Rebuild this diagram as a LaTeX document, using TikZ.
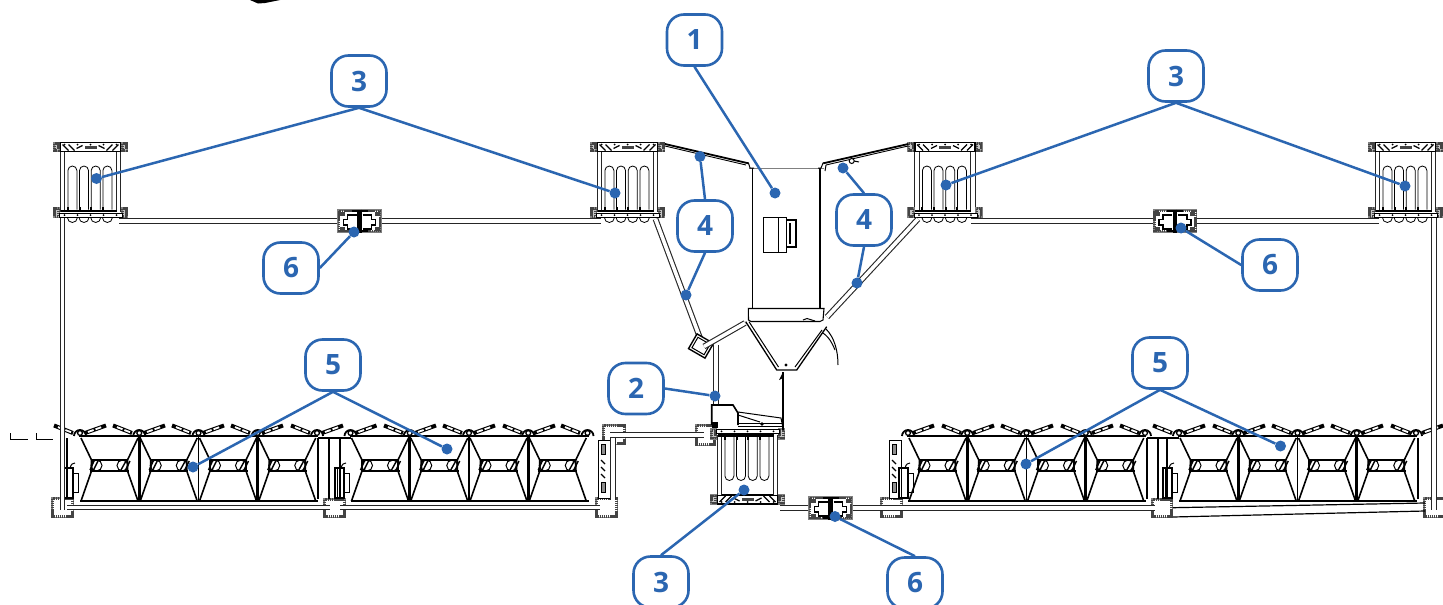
\documentclass[tikz,border=0pt]{standalone}
\usepackage{fontspec}
\setmainfont{Open Sans}
\definecolor{tagblue}{HTML}{2B66B1}
\definecolor{steel}{HTML}{444444}
\tikzset{
  tag/.style={draw=tagblue, fill=white, line width=2.6pt, rounded corners=17pt, minimum width=55pt, minimum height=51pt, inner sep=0pt, text=tagblue, font=\fontsize{28}{28}\selectfont\bfseries},
  tagdot/.style={circle, fill=tagblue, inner sep=0pt, minimum size=11pt},
  tagline/.style={draw=tagblue, line width=2.5pt},
  part/.style={black, line width=1pt},
  rail/.style={draw=black!85, line width=1.1pt, double=white, double distance=3.6pt},
  boxedge/.style={draw=steel, line width=2.6pt, dash pattern=on 1.5pt off 0.6pt, fill=white, preaction={draw=gray, line width=3.2pt, solid}},
  blockedge/.style={boxedge, fill=gray!45},
  rack/.pic={
    \draw[blockedge] (-36,2) rectangle (-32,9);
    \draw[blockedge] (32,2) rectangle (36,9);
    \draw[part, line width=1.2pt] (-30,1) rectangle (30,10);
    \fill[steel] (-6,4.5) rectangle (6,7);
    \foreach \s in {-1,1} {
      \draw[part, line width=1.3pt] (\s*28,3) -- (\s*22,9) (\s*22,3) -- (\s*16,9) (\s*14,7) -- (\s*8,4);
      \draw[rail] (\s*28,10) -- (\s*28,70);
      \draw[blockedge] (\s*32,67) rectangle (\s*36,75);
    }
    \foreach \t in {-18.1,-6.5,5.2,16.9} {
      \draw[part, line width=0.8pt] (\t-4.5,68) -- (\t-4.5,29) arc (180:360:4.5) -- (\t+4.5,68);
      \fill (\t-5.5,65.5) rectangle (\t-3.5,70);
    }
    \draw[black, line width=2.4pt] (-30,69.5) -- (26,69.5);
    \draw[part, fill=white] (-31,71.5) rectangle (32,76);
    \foreach \t in {-26,-13,0,13,26} {
      \fill (\t,3) circle (1) (\t,73.7) circle (1);
    }
  },
  rackcurls/.pic={
    \foreach \t in {-18.1,-6.5,5.2,16.9} {
      \draw[part, line width=0.8pt] (\t-5,76) arc (180:0:5);
    }
  },
  pumpunit/.pic={
    \draw[boxedge] (-20.5,-10) rectangle (20.5,10);
    \foreach \s in {-1,1} {
      \fill[steel] (\s*20,-9.5) rectangle (\s*15,-5.5);
      \fill[steel] (\s*20,9.5) rectangle (\s*15,5.5);
      \draw[part, line width=1.3pt, fill=white] (\s*3,-6) -- (\s*12,-6) -- (\s*12,-1.5) -- (\s*16,-1.5) -- (\s*16,4) -- (\s*12,4) -- (\s*12,8) -- (\s*3,8);
    }
    \draw[black, line width=4.4pt] (0,-11.5) -- (0,11.5);
    \draw[black, line width=2.6pt] (-8,-10) -- (8,-10);
    \draw[black, line width=2.6pt] (-8,10) -- (8,10);
  },
  bank/.pic={
    \draw[black, line width=1.5pt] (-1,3) -- (238,3);
    \draw[black, line width=2.6pt] (0,68) -- (238,68);
    \foreach \i in {0,1,2,3} {
      \begin{scope}[shift={(59.25*\i,0)}]
        \draw[black, line width=1.6pt] (1,5) -- (11.5,27) -- (11.5,38) -- (1,68);
        \draw[black, line width=1.6pt] (58,5) -- (47.5,27) -- (47.5,38) -- (58,68);
        \draw[black, line width=1.6pt] (11,27) -- (48,27) (10,38) -- (49,38);
        \draw[part] (16.5,32.5) circle (5.5) (42.5,32.5) circle (5.5);
        \draw[part, line width=1.4pt] (10,37) -- (14,28) (13,38) -- (18,28) (41,37) -- (46,28) (45,38) -- (50,28);
      \end{scope}
    }
    \draw[black, line width=3.2pt] (59.25,4) -- (59.25,68);
    \draw[black, line width=1.6pt] (118.5,4) -- (118.5,68);
    \draw[black, line width=3.2pt] (177.75,4) -- (177.75,68);
    \foreach \i in {0,1,2,3,4} {
      \draw[black, line width=1.8pt] (59.25*\i-6,3) arc (180:360:6);
      \draw[part, line width=1.3pt, fill=white] (59.25*\i,0) circle (2.4);
    }
  },
  panelunit/.pic={
    \draw[part, fill=white] (0,0) rectangle (12,58);
    \draw[part, fill=steel!60] (3,4) rectangle (7,14);
    \draw[part, fill=steel!60] (3,42) rectangle (7,52);
    \draw[part, line width=1.3pt] (3,20) -- (7,24) (3,27) -- (7,31) (3,34) -- (7,38);
  },
  motorunit/.pic={
    \draw[black, line width=1.6pt] (0,2) -- (0,32) -- (9,32) -- (9,2) -- cycle;
    \draw[part] (2.5,2) -- (2.5,32);
    \draw[part] (9,7) rectangle (14,26);
    \draw[part] (6,2) .. controls (7,-2) and (9,-3) .. (11,-3);
  }
}
\begin{document}
\begin{tikzpicture}[x=1pt, y=-1pt]
        \useasboundingbox (0,0) rectangle (1443,605);
        \clip (0,0) rectangle (1443,605);
        \fill[white] (0,0) rectangle (1443,605);

        \fill (250,0) -- (258,3.5) -- (265,3) -- (280,0) -- cycle;
        \draw[part] (10,433) -- (10,439.5) -- (28,439.5);
        \draw[part] (36,433) -- (36,439.5) -- (53,439.5);

        \foreach \x/\y/\w/\h in {51/497/23/21, 323/498/23/20, 595/497/23/21, 602/424/24/21, 695/424/21/22, 880/497/23/21, 1151/498/22/20, 1423/497/23/21} {
          \draw[boxedge] (\x+1.5,\y+1.5) rectangle (\x+\w-1.5,\y+\h-1.5);
        }

        \foreach \x in {80,350.5,908,1179} {
          \pic at (\x,433) {bank};
        }
        \pic at (598,440) {panelunit};
        \pic at (889,440) {panelunit};
        \foreach \x in {64,335,1163} {
          \pic at (\x,466) {motorunit};
        }
        \pic at (899,466) {motorunit};
        \foreach \x in {67,318,329,340,1147,1158,1167,1418} {
          \draw[part, line width=1.3pt] (\x,438) -- (\x,499);
        }
        \draw[part, line width=1.3pt] (318,438) -- (351,438) (1147,438) -- (1179,438);

        \foreach \x in {80,139,198,257,317,410,469,529,587,968,1027,1087,1146,1179,1239,1298,1357,1417} {
          \draw[black, line width=4pt] (\x-7,433) -- (\x-26,425.5);
          \draw[white, line width=1.8pt, dash pattern=on 6pt off 2pt] (\x-9,432.2) -- (\x-23,426.7);
        }
        \foreach \x in {80,139,198,257,317,350.5,410,469,529,908,968,1027,1087,1179,1239,1298,1357,1417} {
          \draw[black, line width=4pt] (\x+5,433) -- (\x+26,425.5);
          \draw[white, line width=1.8pt, dash pattern=on 6pt off 2pt] (\x+8,432) -- (\x+23,426.6);
        }

        \draw[rail] (119,220.7) -- (601,220.7);
        \draw[rail] (971,220.7) -- (1379,220.7);
        \draw[rail] (62.5,218) -- (62.5,510);
        \draw[rail] (1434,218) -- (1434,510);
        \draw[rail] (67,507.5) -- (330,507.5);
        \draw[rail] (340,507.5) -- (600,507.5);
        \draw[rail] (612.7,434) -- (612.7,500);
        \draw[rail] (610,434.8) -- (704,434.8);
        \draw[rail] (780,508.2) -- (1155,508.2);
        \draw[part, line width=1.2pt] (1173,507.7) -- (1425,503) (1173,517) -- (1425,511);

        \foreach \x in {90.5,627.5,945,1405.5} {
          \pic at (\x,141.5) {rack};
          \pic at (\x,141.5) {rackcurls};
        }
        \pic[yscale=-1] at (747.5,505) {rack};

        \foreach \x/\y in {359.5/221, 1175/221, 830.5/508} {
          \pic at (\x,\y) {pumpunit};
        }

        \draw[gray, line width=1.4pt] (749,168.3) -- (824,168.3);
        \draw[black, line width=1.1pt] (752.7,168.3) -- (752.7,308) (820,168.3) -- (820,308);
        \draw[black, line width=1.1pt, fill=white] (748.3,308.5) -- (824,308.5) -- (823,320) -- (820,321.5) -- (751,321.5) -- (748.5,320) -- cycle;
        \draw[part] (803,320) -- (807,318.5) -- (815,321);
        \draw[part, line width=1.2pt] (763.3,217.3) rectangle (786.7,252.3);
        \draw[part, line width=1.2pt] (778.3,217.3) -- (778.3,252.3);
        \draw[black, line width=2pt] (787,219.5) -- (796,219.5) -- (796,247) -- (787,247);
        \draw[black, line width=1.4pt] (790,223) -- (790,244);

        \draw[black, line width=1.3pt] (745.7,321.7) -- (776.7,370) -- (796.7,370) -- (826.7,326.7);
        \draw[part] (749,321.7) -- (778.5,367) (822,330) -- (795,367);
        \draw[part] (826,329) .. controls (834,337) and (838,350) .. (838,365);
        \draw[part] (823,333) .. controls (830,338) and (833,345) .. (835,350);
        \draw[part] (786,365) circle (1);
        \draw[black, line width=1.3pt] (783,372) -- (783,430);
        \fill (783,372) -- (779,380) -- (783,378) -- cycle;

        \draw[black, line width=1.8pt] (665,144) -- (748.3,163.3);
        \draw[black, line width=0.9pt] (665,146) -- (746,165);
        \draw[part] (748.3,162.5) -- (750,168) -- (754,168);
        \draw[black, line width=1.8pt] (908.3,144) -- (823.3,163.3);
        \draw[black, line width=0.9pt] (908,146) -- (826,165);
        \draw[part] (823.3,162.5) -- (821,168) -- (818,168) (826,165) -- (825,171);
        \draw[part, fill=white] (851.7,161) circle (2.5);
        \draw[part] (854,161) -- (859,162);

        \draw[rail] (655.5,219) -- (700,338);
        \draw[rail] (918,219) -- (827,317);
        \draw[black, line width=1.4pt, fill=white, rotate around={-30:(701,346)}] (691.5,337.5) rectangle (710.5,354.5);
        \draw[part, rotate around={-30:(701,346)}] (694,340) rectangle (708,352);
        \draw[rail] (704,346.5) -- (745,323);
        \draw[rail] (715.8,345) -- (715.8,405);

        \draw[black, line width=1.6pt, fill=white] (711.7,425) -- (711.7,405) -- (733,405) -- (738,413) -- (738,425);
        \draw[part] (738,412) -- (781,418) -- (783,428) (738,415) -- (760,422);
        \draw[part] (738,423) -- (783,423) (738,426) -- (783,426);
        \fill (711.7,421.7) rectangle (718,428);
        \fill (762,424) circle (1.8);

        \node[tagdot] (dotA) at (775,193) {};
        \node[tagdot] (dotB) at (715,396) {};
        \node[tagdot] (dotCa) at (96.5,178.5) {};
        \node[tagdot] (dotCb) at (615,193) {};
        \node[tagdot] (dotCc) at (946,185) {};
        \node[tagdot] (dotCd) at (1405,186) {};
        \node[tagdot] (dotCe) at (744,490) {};
        \node[tagdot] (dotDa) at (700,156.5) {};
        \node[tagdot] (dotDb) at (686,295) {};
        \node[tagdot] (dotDc) at (843,168) {};
        \node[tagdot] (dotDd) at (857,283) {};
        \node[tagdot] (dotEa) at (193,467) {};
        \node[tagdot] (dotEb) at (447,449) {};
        \node[tagdot] (dotEc) at (1026,464) {};
        \node[tagdot] (dotEd) at (1280.5,446) {};
        \node[tagdot] (dotFa) at (354,232) {};
        \node[tagdot] (dotFb) at (1181,228) {};
        \node[tagdot] (dotFc) at (835,516.5) {};

        \node[tag] (tagA) at (694.5,40) {1};
        \node[tag] (tagB) at (636,388.5) {2};
        \node[tag] (tagCa) at (359,81) {3};
        \node[tag] (tagCb) at (1176,76) {3};
        \node[tag] (tagCc) at (661,582) {3};
        \node[tag] (tagDa) at (705,226) {4};
        \node[tag] (tagDb) at (864,220) {4};
        \node[tag] (tagEa) at (333,365) {5};
        \node[tag] (tagEb) at (1160,363) {5};
        \node[tag] (tagFa) at (291,268) {6};
        \node[tag] (tagFb) at (1270,265) {6};
        \node[tag] (tagFc) at (915,583) {6};

        \draw[tagline] (tagA.south) -- (dotA);
        \draw[tagline] (tagB.east) -- (dotB);
        \draw[tagline] (tagCa.south) -- (dotCa);
        \draw[tagline] (tagCa.south) -- (dotCb);
        \draw[tagline] (tagCb.south) -- (dotCc);
        \draw[tagline] (tagCb.south) -- (dotCd);
        \draw[tagline] (tagCc.north) -- (dotCe);
        \draw[tagline] (tagDa.north) -- (dotDa);
        \draw[tagline] (tagDa.south) -- (dotDb);
        \draw[tagline] (tagDb.north) -- (dotDc);
        \draw[tagline] (tagDb.south) -- (dotDd);
        \draw[tagline] (tagEa.south) -- (dotEa);
        \draw[tagline] (tagEa.south) -- (dotEb);
        \draw[tagline] (tagEb.south) -- (dotEc);
        \draw[tagline] (tagEb.south) -- (dotEd);
        \draw[tagline] (tagFa.east) -- (dotFa);
        \draw[tagline] (tagFb.west) -- (dotFb);
        \draw[tagline] (tagFc.north) -- (dotFc);

      \end{tikzpicture}
\end{document}
